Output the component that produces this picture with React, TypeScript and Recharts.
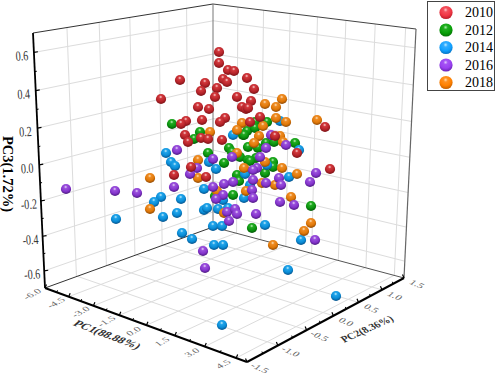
import { ScatterChart, Scatter, XAxis, YAxis, ReferenceLine, ReferenceDot, Legend } from 'recharts'

type Pt = [number, number]

// marker positions (screen plane of the 3D view)
const points2010: Pt[] = [
  [219,52],[219,63],[228,70],[234,71],[180,80],[205,83],[201,91],[223,79],[227,82],[247,78],
  [217,88],[215,97],[161,99],[237,97],[198,107],[209,109],[242,107],[246,109],[251,101],[254,89],
  [202,120],[225,118],[220,122],[186,121],[181,124],[185,135],[188,142],[201,138],[208,139],[222,140],
  [250,122],[260,117],[248,108],[325,127],[275,136],[297,153],[330,169],[174,175],[191,167],[206,177],
]
const points2012: Pt[] = [
  [172,124],[200,132],[194,139],[247,131],[255,122],[267,122],[255,128],[243,135],[248,147],[229,148],
  [232,152],[208,153],[224,163],[240,157],[248,160],[258,148],[256,158],[250,161],[266,143],[274,142],
  [295,143],[273,162],[273,167],[265,173],[237,175],[239,181],[233,195],[215,196],[311,206],[252,228],[244,135],
]
const points2014: Pt[] = [
  [233,135],[280,121],[299,150],[166,153],[171,162],[175,166],[209,162],[216,169],[267,165],[245,174],
  [289,177],[250,185],[204,189],[244,198],[161,197],[154,202],[181,199],[177,213],[163,217],[116,219],
  [204,210],[207,208],[218,209],[228,208],[223,200],[213,226],[222,226],[182,233],[192,239],[214,245],
  [223,245],[265,225],[301,240],[288,270],[336,296],[222,325],
]
const points2016: Pt[] = [
  [271,135],[286,145],[266,148],[260,157],[177,150],[232,157],[213,159],[197,168],[190,174],[257,168],
  [253,170],[316,173],[279,178],[266,183],[281,185],[310,182],[253,180],[233,182],[224,184],[213,187],
  [174,187],[223,195],[216,199],[252,190],[253,198],[280,202],[294,205],[256,214],[227,212],[235,209],
  [237,214],[229,221],[66,189],[115,191],[137,193],[203,251],[205,268],[315,240],
]
const points2018: Pt[] = [
  [210,132],[242,123],[237,130],[265,104],[276,107],[282,99],[276,118],[286,122],[263,126],[317,120],
  [259,136],[280,136],[254,143],[283,142],[237,153],[198,160],[150,178],[198,178],[244,168],[265,162],
  [282,168],[297,174],[262,183],[275,185],[217,191],[246,191],[150,209],[224,213],[291,197],[311,223],
  [304,231],[273,245],
]

const years = ['2010', '2012', '2014', '2016', '2018']
const sphereColors: Record<string, string[]> = {
  '2010': ['#f8d4d4', '#d2383c', '#b5242a', '#6e0e12'],
  '2012': ['#c8f2c4', '#22ac22', '#0a920e', '#034a06'],
  '2014': ['#c8eefc', '#20a4ea', '#0a8cd6', '#04457a'],
  '2016': ['#ead8fa', '#9a50dc', '#8434cc', '#401470'],
  '2018': ['#fde4c0', '#ee8c24', '#e07808', '#7c3e04'],
}
const legendColors: Record<string, string[]> = {
  '2010': ['#fcc8cc', '#f4505c', '#f03644', '#b01824'],
  '2012': ['#a8eca8', '#20ae20', '#08a008', '#046a04'],
  '2014': ['#bceaff', '#30acff', '#10a0ff', '#066cba'],
  '2016': ['#e2c8ff', '#a452f4', '#9a40f0', '#5e1ea8'],
  '2018': ['#ffdcb0', '#ff9020', '#ff8000', '#b85800'],
}

const pc1Ticks = [-6, -4.5, -3, -1.5, 0, 1.5, 3, 4.5]
const pc1Minor = [-5.25, -3.75, -2.25, -0.75, 0.75, 2.25, 3.75]
const pc2Ticks = [-1.5, -1, -0.5, 0, 0.5, 1, 1.5]
const pc2Minor = [-1.25, -0.75, -0.25, 0.25, 0.75, 1.25]
const pc3Ticks = [-0.6, -0.4, -0.2, 0, 0.2, 0.4, 0.6]
const pc3Minor = [-0.5, -0.3, -0.1, 0.1, 0.3, 0.5]

const pc1Range: Pt = [-6, 5]
const pc2Range: Pt = [-1.5, 1.5]
const pc3Range: Pt = [-0.7, 0.7]

// box corners on screen
const floorLeft: Pt = [45, 288]
const floorFront: Pt = [247, 362]
const floorRight: Pt = [404, 278]
const floorBack: Pt = [213, 227]
const topLeft: Pt = [33, 33]
const topBack: Pt = [213, 4]
const topRight: Pt = [416, 29]

// perspective map of the unit square onto a quad
function quad(p00: Pt, p10: Pt, p11: Pt, p01: Pt) {
  const sx = p00[0] - p10[0] + p11[0] - p01[0]
  const sy = p00[1] - p10[1] + p11[1] - p01[1]
  const dx1 = p10[0] - p11[0]
  const dx2 = p01[0] - p11[0]
  const dy1 = p10[1] - p11[1]
  const dy2 = p01[1] - p11[1]
  const den = dx1 * dy2 - dx2 * dy1
  const g = (sx * dy2 - dx2 * sy) / den
  const h = (dx1 * sy - sx * dy1) / den
  const a = p10[0] - p00[0] + g * p10[0]
  const b = p01[0] - p00[0] + h * p01[0]
  const d = p10[1] - p00[1] + g * p10[1]
  const e = p01[1] - p00[1] + h * p01[1]
  return (u: number, v: number): Pt => {
    const w = g * u + h * v + 1
    return [(a * u + b * v + p00[0]) / w, (d * u + e * v + p00[1]) / w]
  }
}

const norm = (v: number, r: Pt) => (v - r[0]) / (r[1] - r[0])
const floorMap = quad(floorLeft, floorFront, floorRight, floorBack)
const leftMap = quad(floorLeft, floorBack, topBack, topLeft)
const rightMap = quad(floorBack, floorRight, topRight, topBack)

const onFloor = (a: number, b: number) => floorMap(norm(a, pc1Range), norm(b, pc2Range))
const onLeft = (b: number, c: number) => leftMap(norm(b, pc2Range), norm(c, pc3Range))
const onRight = (a: number, c: number) => rightMap(norm(a, pc1Range), norm(c, pc3Range))

const toRows = (pts: Pt[]) => pts.map(([x, y]) => ({ x, y }))

const seg = (key: string, from: Pt, to: Pt, color: string, width: number) => (
  <ReferenceLine
    key={key}
    segment={[{ x: from[0], y: from[1] }, { x: to[0], y: to[1] }]}
    stroke={color}
    strokeWidth={width}
    ifOverflow="visible"
  />
)

const GRID = '#dcdcdc'
const EDGE = '#555'

const gridLines = [
  ...pc1Ticks.slice(1).map((a) => seg(`fa${a}`, onFloor(a, -1.5), onFloor(a, 1.5), GRID, 1)),
  ...pc2Ticks.slice(1, -1).map((b) => seg(`fb${b}`, onFloor(-6, b), onFloor(5, b), GRID, 1)),
  ...pc2Ticks.slice(1, -1).map((b) => seg(`lb${b}`, onLeft(b, -0.7), onLeft(b, 0.7), GRID, 1)),
  ...pc3Ticks.map((c) => seg(`lc${c}`, onLeft(-1.5, c), onLeft(1.5, c), GRID, 1)),
  ...pc1Ticks.slice(1).map((a) => seg(`ra${a}`, onRight(a, -0.7), onRight(a, 0.7), GRID, 1)),
  ...pc3Ticks.map((c) => seg(`rc${c}`, onRight(-6, c), onRight(5, c), GRID, 1)),
]

const boxLines = [
  seg('e1', topLeft, topBack, '#333', 1),
  seg('e2', topBack, topRight, '#444', 1),
  seg('e3', floorBack, topBack, '#777', 1),
  seg('e4', floorRight, topRight, '#666', 1.2),
  seg('e5', floorLeft, floorBack, '#333', 1),
  seg('e6', floorBack, floorRight, EDGE, 1),
  seg('e7', floorLeft, topLeft, '#000', 1.8),
  seg('e8', floorLeft, floorFront, '#000', 2),
  seg('e9', floorFront, floorRight, '#000', 2),
]

const shift = (p: Pt, dx: number, dy: number): Pt => [p[0] + dx, p[1] + dy]

const tickLines = [
  ...pc3Ticks.map((c) => seg(`t3${c}`, onLeft(-1.5, c), shift(onLeft(-1.5, c), 4, -0.7), '#000', 1.2)),
  ...pc3Minor.map((c) => seg(`m3${c}`, onLeft(-1.5, c), shift(onLeft(-1.5, c), 2, -0.4), '#000', 1)),
  ...pc1Ticks.map((a) => seg(`t1${a}`, onFloor(a, -1.5), shift(onFloor(a, -1.5), 1.5, -3.5), '#000', 1.2)),
  ...pc1Minor.map((a) => seg(`m1${a}`, onFloor(a, -1.5), shift(onFloor(a, -1.5), 0.8, -2), '#000', 1)),
  ...pc2Ticks.map((b) => seg(`t2${b}`, onFloor(5, b), shift(onFloor(5, b), -1.5, -3.5), '#000', 1.2)),
  ...pc2Minor.map((b) => seg(`m2${b}`, onFloor(5, b), shift(onFloor(5, b), -0.8, -2), '#000', 1)),
]

const FONT = '"Liberation Serif", "Times New Roman", serif'

const label = (key: string, at: Pt, text: string, transform: string, size: number, bold = false, fill = '#333') => (
  <ReferenceDot
    key={key}
    x={at[0]}
    y={at[1]}
    r={0}
    ifOverflow="visible"
    shape={(p: any) => (
      <text
        transform={`translate(${p.cx} ${p.cy}) ${transform}`}
        textAnchor="middle"
        dominantBaseline="central"
        fontFamily={FONT}
        fontSize={size}
        fontWeight={bold ? 700 : 400}
        fill={fill}
      >
        {text}
      </text>
    )}
  />
)

const fmt = (v: number) => (v === 0 ? '0.0' : v.toFixed(1))

const tickLabels = [
  ...pc3Ticks.map((c) => label(`l3${c}`, shift(onLeft(-1.5, c), -12, 3.5), fmt(c), 'rotate(-4) scale(0.72 1)', 14)),
  ...pc1Ticks.map((a) => label(`l1${a}`, shift(onFloor(a, -1.5), -13, 6), fmt(a), 'rotate(-28) skewX(25) scale(1 0.72)', 11, false, '#666')),
  ...pc2Ticks.map((b) => label(`l2${b}`, shift(onFloor(5, b), 13, 6), fmt(b), 'rotate(24) skewX(-25) scale(1 0.72)', 11, false, '#666')),
]

const titles = [
  label('tPC3', [8, 174], 'PC3(1.72%)', 'rotate(90)', 14.5, true, '#000'),
  label('tPC1', [107, 335], 'PC1(88.88%)', 'rotate(21) skewX(-28) scale(1 0.85)', 12, true, '#333'),
  label('tPC2', [367, 329], 'PC2(8.36%)', 'rotate(-24) skewX(18) scale(1 0.95)', 10.5, true, '#333'),
]

function gradient(id: string, c: string[]) {
  return (
    <radialGradient key={id} id={id} cx="0.47" cy="0.3" r="0.74">
      <stop offset="0%" stopColor={c[0]} />
      <stop offset="22%" stopColor={c[1]} />
      <stop offset="60%" stopColor={c[2]} />
      <stop offset="100%" stopColor={c[3]} />
    </radialGradient>
  )
}

const sphere = (year: string) => (p: any) => (
  <circle cx={p.cx} cy={p.cy} r={5.1} fill={`url(#sphere-${year})`} />
)

function LegendBox() {
  return (
    <div
      style={{
        width: 68,
        height: 90,
        boxSizing: 'border-box',
        border: '1px solid #444',
        background: '#fff',
        position: 'relative',
      }}
    >
      <svg width={66} height={88} style={{ display: 'block' }}>
        <defs>{years.map((y) => gradient(`legend-${y}`, legendColors[y]))}</defs>
        {years.map((y, i) => (
          <g key={y}>
            <circle cx={18} cy={10.5 + i * 17.5} r={6.6} fill={`url(#legend-${y})`} />
            <text x={37} y={15 + i * 17.5} fontFamily={FONT} fontSize={14} fill="#000">
              {y}
            </text>
          </g>
        ))}
      </svg>
    </div>
  )
}

export default function App() {
  return (
    <div style={{ position: 'absolute', left: 0, top: 0, width: 498, height: 375 }}>
      <ScatterChart width={498} height={375} margin={{ top: 0, right: 0, bottom: 0, left: 0 }}>
        <defs>{years.map((y) => gradient(`sphere-${y}`, sphereColors[y]))}</defs>
        <XAxis type="number" dataKey="x" domain={[0, 498]} hide />
        <YAxis type="number" dataKey="y" domain={[0, 375]} reversed hide />
        <Legend
          layout="horizontal"
          verticalAlign="middle"
          align="center"
          content={<LegendBox />}
          wrapperStyle={{ left: 427, top: 1, width: 68, height: 90, right: 'auto', bottom: 'auto' }}
        />
        {gridLines}
        {boxLines}
        {tickLines}
        {tickLabels}
        {titles}
        <Scatter name="2012" data={toRows(points2012)} fill="#0b980f" shape={sphere('2012')} isAnimationActive={false} />
        <Scatter name="2014" data={toRows(points2014)} fill="#0a90d8" shape={sphere('2014')} isAnimationActive={false} />
        <Scatter name="2018" data={toRows(points2018)} fill="#e67c10" shape={sphere('2018')} isAnimationActive={false} />
        <Scatter name="2016" data={toRows(points2016)} fill="#8a38d2" shape={sphere('2016')} isAnimationActive={false} />
        <Scatter name="2010" data={toRows(points2010)} fill="#c9302f" shape={sphere('2010')} isAnimationActive={false} />
      </ScatterChart>
    </div>
  )
}
